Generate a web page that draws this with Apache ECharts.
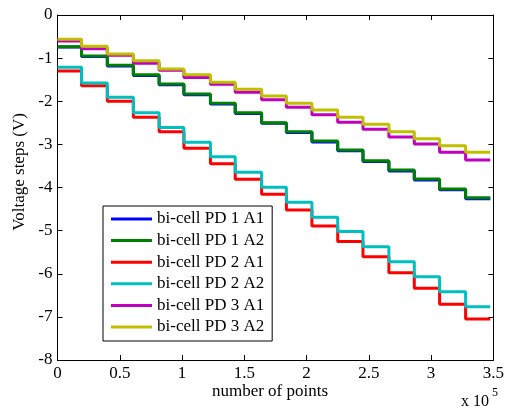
<!DOCTYPE html>
<html>
<head>
<meta charset="utf-8">
<script src="https://cdn.jsdelivr.net/npm/echarts@6/dist/echarts.min.js"></script>
<style>
  html, body { margin: 0; padding: 0; background: #fff; }
  #chart { width: 507px; height: 407px; }
</style>
</head>
<body>
<div id="chart"></div>
<script>
// Sample index where each voltage step begins (first level starts at 0)
const stepStarts = [0, 19300, 40000, 60900, 81600, 101500, 122800, 142700, 163900,
  183800, 204300, 225000, 245300, 266100, 286500, 306800, 327700];
const lastSample = 347500;

const seriesNames = ['bi-cell PD 1 A1', 'bi-cell PD 1 A2', 'bi-cell PD 2 A1',
  'bi-cell PD 2 A2', 'bi-cell PD 3 A1', 'bi-cell PD 3 A2'];

// Voltage level (V) held during each step
const pd1A1 = [-0.74, -0.965, -1.18, -1.40, -1.615, -1.85, -2.065, -2.285, -2.51,
  -2.725, -2.945, -3.15, -3.395, -3.615, -3.825, -4.055, -4.26];
const pd1A2 = [-0.735, -0.951, -1.167, -1.383, -1.60, -1.832, -2.048, -2.265, -2.497,
  -2.706, -2.922, -3.13, -3.379, -3.594, -3.803, -4.035, -4.236];
const pd2A1 = [-1.299, -1.643, -2.0, -2.373, -2.705, -3.09, -3.45, -3.81, -4.158,
  -4.522, -4.893, -5.25, -5.604, -5.975, -6.338, -6.708, -7.049];
const pd2A2 = [-1.213, -1.575, -1.91, -2.265, -2.61, -2.95, -3.285, -3.648, -3.996,
  -4.343, -4.691, -5.02, -5.372, -5.72, -6.068, -6.416, -6.764];
const pd3A1 = [-0.603, -0.78, -0.935, -1.12, -1.28, -1.449, -1.604, -1.79, -1.963,
  -2.14, -2.311, -2.485, -2.651, -2.829, -2.991, -3.184, -3.362];
const pd3A2 = [-0.564, -0.727, -0.904, -1.059, -1.25, -1.385, -1.56, -1.724, -1.878,
  -2.048, -2.203, -2.373, -2.535, -2.706, -2.868, -3.03, -3.184];

const xTicks = [0, 0.5, 1, 1.5, 2, 2.5, 3, 3.5];
const yTicks = [-8, -7, -6, -5, -4, -3, -2, -1, 0];

const levels = [pd1A1, pd1A2, pd2A1, pd2A2, pd3A1, pd3A2];
const colors = ['#0000ff', '#008000', '#ff0000', '#00bfbf', '#bf00bf', '#bfbf00'];

function stepData(vals) {
  const pts = stepStarts.map((x, i) => [x, vals[i]]);
  pts.push([lastSample, vals[vals.length - 1]]);
  return pts;
}

const FONT = 'Liberation Serif';
function axisBase() {
  return {
    type: 'value',
    axisLine: { show: true, onZero: false, lineStyle: { color: '#000', width: 1 } },
    axisTick: { show: true, inside: true, length: 5, lineStyle: { color: '#000' } },
    splitLine: { show: false }
  };
}

const option = {
  animation: false,
  backgroundColor: '#fff',
  grid: { left: 57.5, right: 10, top: 15, bottom: 47 },
  xAxis: [
    Object.assign(axisBase(), {
      min: 0, max: 350000, interval: 50000, position: 'bottom',
      axisLabel: {
        show: true, margin: 5, color: '#000', fontFamily: FONT, fontSize: 17,
        formatter: v => {
          const t = xTicks.find(k => Math.abs(k * 1e5 - v) < 1);
          return t === undefined ? '' : String(t);
        }
      }
    }),
    Object.assign(axisBase(), {
      min: 0, max: 350000, interval: 50000, position: 'top',
      axisLabel: { show: false }
    })
  ],
  yAxis: [
    Object.assign(axisBase(), {
      min: -8, max: 0, interval: 1, position: 'left',
      axisLabel: {
        show: true, margin: 5, color: '#000', fontFamily: FONT, fontSize: 17,
        formatter: v => (yTicks.includes(v) ? String(v) : '')
      }
    }),
    Object.assign(axisBase(), {
      min: -8, max: 0, interval: 1, position: 'right',
      axisLabel: { show: false }
    })
  ],
  legend: {
    orient: 'vertical',
    left: 103, top: 206,
    padding: [4, 8, 5, 8],
    itemGap: 3.6,
    itemWidth: 41,
    itemHeight: 3,
    icon: 'rect',
    borderColor: '#000',
    borderWidth: 1,
    backgroundColor: '#fff',
    textStyle: { color: '#000', fontFamily: FONT, fontSize: 17, lineHeight: 18 },
    data: seriesNames
  },
  graphic: [
    {
      type: 'text', x: 20, y: 172, rotation: Math.PI / 2,
      style: { text: 'Voltage steps (V)', fill: '#000', font: '17px "Liberation Serif"',
        textAlign: 'center', textVerticalAlign: 'middle' }
    },
    {
      type: 'text', x: 270, y: 392,
      style: { text: 'number of points', fill: '#000', font: '17px "Liberation Serif"',
        textAlign: 'center', textVerticalAlign: 'middle' }
    },
    {
      type: 'text', x: 461, y: 402,
      style: { text: 'x 10', fill: '#000', font: '16px "Liberation Serif"',
        textAlign: 'left', textVerticalAlign: 'middle' }
    },
    {
      type: 'text', x: 492, y: 393,
      style: { text: '5', fill: '#000', font: '12px "Liberation Serif"',
        textAlign: 'left', textVerticalAlign: 'middle' }
    }
  ],
  series: seriesNames.map((name, i) => ({
    name: name,
    type: 'line',
    step: 'end',
    showSymbol: false,
    symbol: 'none',
    color: colors[i],
    lineStyle: { color: colors[i], width: 3 },
    data: stepData(levels[i]),
    z: 2 + i
  }))
};

const chart = echarts.init(document.getElementById('chart'), null, { renderer: 'canvas' });
chart.setOption(option);
</script>
</body>
</html>
